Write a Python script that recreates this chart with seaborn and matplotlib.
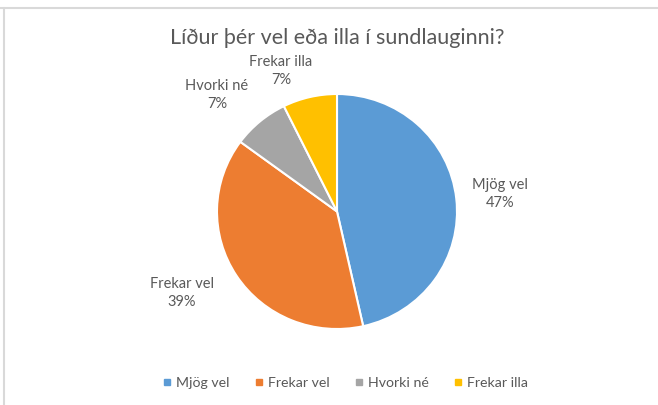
import matplotlib
matplotlib.use('Agg')
from matplotlib import pyplot as plt
from matplotlib.lines import Line2D
import seaborn as sns


categories = ['Mjög vel', 'Frekar vel', 'Hvorki né', 'Frekar illa']
shares = [46.5, 38.6, 7.6, 7.3]          # slice sizes
pct_labels = ['47%', '39%', '7%', '7%']  # data labels as printed
colors = ['#5B9BD5', '#ED7D31', '#A5A5A5', '#FFC000']
title = 'Líður þér vel eða illa í sundlauginni?'

W, H = 658, 405
TEXT_COLOR = '#595959'

sns.set_theme(style='white')
plt.rcParams['font.family'] = ['Lato', 'DejaVu Sans']

fig = plt.figure(figsize=(W / 100, H / 100), dpi=100)

# pie centred at (337, 211.5) px, radii 120 x 117.5 px (screenshot is slightly squashed)
cx, cy, rx, ry = 337, 211.5, 120, 117.5
ax = fig.add_axes([(cx - rx) / W, (H - cy - ry) / H, 2 * rx / W, 2 * ry / H])
ax.pie(shares, colors=colors, startangle=90, counterclock=False,
       radius=1, wedgeprops={'edgecolor': 'white', 'linewidth': 1.5})
ax.set_xlim(-1, 1)
ax.set_ylim(-1, 1)
ax.set_aspect('auto')
ax.axis('off')

label_px = [(500, 194), (182, 293), (217, 95), (281, 71)]
for name, pct, (px, py) in zip(categories, pct_labels, label_px):
    fig.text(px / W, 1 - py / H, f'{name}\n{pct}', ha='center', va='center',
             fontsize=10.5, color=TEXT_COLOR, linespacing=1.4)

fig.text(cx / W, 1 - 38 / H, title, ha='center', va='center',
         fontsize=15.5, color=TEXT_COLOR)

handles = [Line2D([], [], marker='s', linestyle='none', markersize=5,
                  markerfacecolor=c, markeredgecolor=c) for c in colors]
fig.legend(handles, categories, loc='center', bbox_to_anchor=(344 / W, 1 - 383 / H),
           ncol=4, frameon=False, fontsize=10.2, labelcolor=TEXT_COLOR,
           handletextpad=0.1, columnspacing=1.6, handlelength=1.0)

# frame lines of the screenshot
fig.add_artist(Line2D([0, 1], [1 - 8 / H, 1 - 8 / H], color='#d9d9d9', lw=1.5))
fig.add_artist(Line2D([4 / W, 4 / W], [0, 1 - 8 / H], color='#d9d9d9', lw=1.5))

fig.savefig('out.png', dpi=100)
